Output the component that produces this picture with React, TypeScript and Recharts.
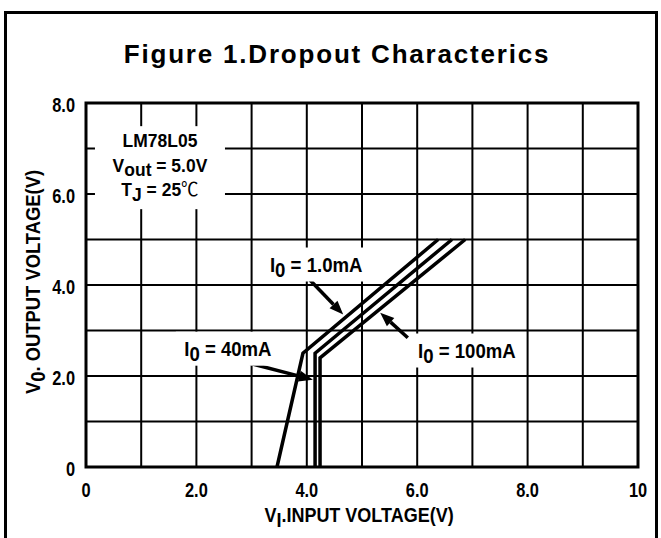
import React from "react";
import {
  LineChart,
  Line,
  XAxis,
  YAxis,
  CartesianGrid,
  ReferenceArea,
  ReferenceLine,
  ReferenceDot,
} from "recharts";

const SANS = "'Liberation Sans', Arial, sans-serif";
const CJK = "'Noto Sans CJK SC', sans-serif";

// axes
const xGridTicks = [0, 1, 2, 3, 4, 5, 6, 7, 8, 9, 10];
const xLabelTicks = [0, 2, 4, 6, 8, 10];
const xTickLabels = ["0", "2.0", "4.0", "6.0", "8.0", "10"];
const yGridTicks = [0, 1, 2, 3, 4, 5, 6, 7, 8];
const yLabelTicks = [0, 2, 4, 6, 8];
const yTickLabels = ["0", "2.0", "4.0", "6.0", "8.0"];

// dropout curves, VI (V) -> VO (V)
const curve1mA = [
  { vi: 3.46, vo: 0 },
  { vi: 3.93, vo: 2.5 },
  { vi: 6.38, vo: 5.0 },
];
const curve40mA = [
  { vi: 4.15, vo: 0 },
  { vi: 4.15, vo: 2.5 },
  { vi: 6.63, vo: 5.0 },
];
const curve100mA = [
  { vi: 4.24, vo: 0 },
  { vi: 4.24, vo: 2.4 },
  { vi: 6.87, vo: 5.0 },
];

// current labels (centre in data coords) and their arrows
const currentLabels = [
  { text: " = 1.0mA", x: 4.17, y: 4.45 },
  { text: " = 40mA", x: 2.57, y: 2.6 },
  { text: " = 100mA", x: 6.9, y: 2.56 },
];
const arrows = [
  { from: { x: 4.0, y: 4.18 }, to: { x: 4.66, y: 3.35 } },
  { from: { x: 2.93, y: 2.29 }, to: { x: 4.11, y: 1.92 } },
  { from: { x: 5.83, y: 2.84 }, to: { x: 5.33, y: 3.39 } },
];
const infoBox = { x: 1.34, y: 6.59 };

const fmt = (ticks: number[], labels: string[]) => (v: number) => {
  const i = ticks.indexOf(v);
  return i >= 0 ? labels[i] : "";
};
const xFmt = fmt(xLabelTicks, xTickLabels);
const yFmt = fmt(yLabelTicks, yTickLabels);

function XTick(p: any) {
  const label = xFmt(p.payload.value);
  if (!label) return null;
  return (
    <g transform={`translate(${p.x},${p.y + 30}) scale(0.82,1)`}>
      <text x={0} y={0} textAnchor="middle" fontFamily={SANS} fontWeight="bold" fontSize={20} fill="#000">
        {label}
      </text>
    </g>
  );
}

function YTick(p: any) {
  const label = yFmt(p.payload.value);
  if (!label) return null;
  return (
    <g transform={`translate(${p.x - 11},${p.y + 9}) scale(0.82,1)`}>
      <text x={0} y={0} textAnchor="end" fontFamily={SANS} fontWeight="bold" fontSize={20} fill="#000">
        {label}
      </text>
    </g>
  );
}

function Arrow(props: any) {
  const { x1, y1, x2, y2 } = props;
  const dx = x2 - x1;
  const dy = y2 - y1;
  const len = Math.hypot(dx, dy);
  const ux = dx / len;
  const uy = dy / len;
  const hl = 14;
  const hw = 5.5;
  const bx = x2 - ux * hl;
  const by = y2 - uy * hl;
  return (
    <g>
      <line x1={x1} y1={y1} x2={bx} y2={by} stroke="#000" strokeWidth={3.5} />
      <polygon
        points={`${x2},${y2} ${bx - uy * hw},${by + ux * hw} ${bx + uy * hw},${by - ux * hw}`}
        fill="#000"
      />
    </g>
  );
}

function CurrentTag({ cx, cy, text }: any) {
  return (
    <g>
      <rect x={cx - 52} y={cy - 17} width={104} height={34} fill="#fff" />
      <g transform={`translate(${cx},${cy + 7}) scale(0.93,1)`}>
        <text x={0} y={0} textAnchor="middle" fontFamily={SANS} fontWeight="bold" fontSize={20} fill="#000">
          I<tspan dy={5}>0</tspan>
          <tspan dy={-5}>{text}</tspan>
        </text>
      </g>
    </g>
  );
}

function InfoTag({ cx, cy }: any) {
  const common = {
    x: 0,
    textAnchor: "middle" as const,
    fontFamily: SANS,
    fontWeight: "bold",
    fontSize: 19,
    fill: "#000",
  };
  return (
    <g>
      <rect x={cx - 65} y={cy - 41} width={130} height={83} fill="#fff" />
      <g transform={`translate(${cx},${cy}) scale(0.92,1)`}>
        <text {...common} y={-20}>LM78L05</text>
        <text {...common} y={5}>
          V<tspan dy={4}>out</tspan>
          <tspan dy={-4}> = 5.0V</tspan>
        </text>
        <text {...common} y={29}>
          T<tspan dy={5}>J</tspan>
          <tspan dy={-5}> = 25</tspan>
          <tspan fontFamily={CJK} fontWeight="normal" fontSize={19}>
            ℃
          </tspan>
        </text>
      </g>
    </g>
  );
}

export default function App() {
  return (
    <div
      style={{
        position: "absolute",
        left: 0,
        top: 0,
        width: 661,
        height: 538,
        overflow: "hidden",
        background: "#fff",
      }}
    >
      <div
        style={{
          position: "absolute",
          left: 4,
          top: 11,
          width: 654,
          height: 560,
          boxSizing: "border-box",
          border: "3px solid #000",
        }}
      />
      <div
        style={{
          position: "absolute",
          left: 0,
          top: 41,
          width: 674,
          textAlign: "center",
          fontFamily: SANS,
          fontWeight: 700,
          fontSize: 26,
          lineHeight: "26px",
          letterSpacing: 1.8,
          color: "#000",
        }}
      >
        Figure 1.Dropout Characterics
      </div>
      <div style={{ position: "absolute", left: 0, top: 0 }}>
        <LineChart width={661} height={538} margin={{ top: 103, right: 23, bottom: 0, left: 0 }}>
          <CartesianGrid stroke="#000" strokeWidth={2} />
          <XAxis
            dataKey="vi"
            type="number"
            domain={[0, 10]}
            ticks={xGridTicks}
            interval={0}
            height={71}
            axisLine={false}
            tickLine={false}
            tickSize={0}
            tickMargin={0}
            tick={<XTick />}
            label={{
              content: (p: any) => {
                const vb = p.viewBox;
                const cx = vb.x + vb.width / 2 - 3;
                return (
                  <g transform={`translate(${cx},${vb.y + 55}) scale(0.9,1)`}>
                    <text x={0} y={0} textAnchor="middle" fontFamily={SANS} fontWeight="bold" fontSize={20} fill="#000">
                      V<tspan dy={5}>I</tspan>
                      <tspan dy={-5}>.INPUT VOLTAGE(V)</tspan>
                    </text>
                  </g>
                );
              },
            }}
          />
          <YAxis
            dataKey="vo"
            type="number"
            domain={[0, 8]}
            ticks={yGridTicks}
            interval={0}
            width={86}
            axisLine={false}
            tickLine={false}
            tickSize={0}
            tickMargin={0}
            tick={<YTick />}
            label={{
              content: (p: any) => {
                const vb = p.viewBox;
                const cx = vb.x + vb.width - 53;
                const cy = vb.y + vb.height / 2 - 3;
                return (
                  <g transform={`translate(${cx},${cy}) rotate(-90) scale(0.92,1)`}>
                    <text x={0} y={7} textAnchor="middle" fontFamily={SANS} fontWeight="bold" fontSize={20} fill="#000">
                      V<tspan dy={5}>0</tspan>
                      <tspan dy={-5}>. OUTPUT  VOLTAGE(V)</tspan>
                    </text>
                  </g>
                );
              },
            }}
          />
          <ReferenceArea
            x1={0}
            x2={10}
            y1={0}
            y2={8}
            fill="none"
            fillOpacity={0}
            stroke="#000"
            strokeWidth={3}
            ifOverflow="visible"
          />
          <ReferenceDot
            x={infoBox.x}
            y={infoBox.y}
            r={1}
            shape={(p: any) => <InfoTag cx={p.cx} cy={p.cy} />}
          />
          {currentLabels.map((l, i) => (
            <ReferenceDot
              key={`lab${i}`}
              x={l.x}
              y={l.y}
              r={1}
              shape={(p: any) => <CurrentTag cx={p.cx} cy={p.cy} text={l.text} />}
            />
          ))}
          {arrows.map((a, i) => (
            <ReferenceLine key={`arr${i}`} segment={[a.from, a.to]} shape={Arrow} />
          ))}
          <Line
            data={curve1mA}
            dataKey="vo"
            type="linear"
            stroke="#000"
            strokeWidth={3.5}
            dot={false}
            isAnimationActive={false}
          />
          <Line
            data={curve40mA}
            dataKey="vo"
            type="linear"
            stroke="#000"
            strokeWidth={3.5}
            dot={false}
            isAnimationActive={false}
          />
          <Line
            data={curve100mA}
            dataKey="vo"
            type="linear"
            stroke="#000"
            strokeWidth={3.5}
            dot={false}
            isAnimationActive={false}
          />
        </LineChart>
      </div>
    </div>
  );
}
